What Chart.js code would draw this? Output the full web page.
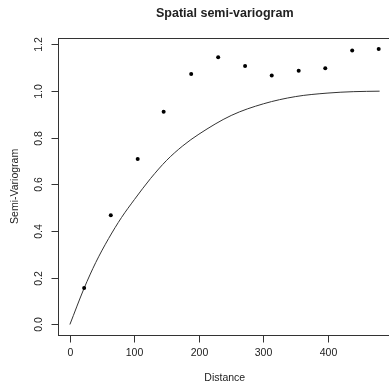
<!DOCTYPE html>
<html>
<head>
<meta charset="utf-8">
<script src="https://cdn.jsdelivr.net/npm/chart.js@4"></script>
<style>
  html, body { margin: 0; padding: 0; background: #fff; overflow: hidden; }
  canvas { display: block; }
</style>
</head>
<body>
<canvas id="vgm" width="396" height="390"></canvas>
<script>
// empirical semi-variogram (binned lags)
const lagDistance = [22.1, 63.4, 105.1, 145.3, 188.0, 229.8, 271.5, 312.8, 354.6, 395.8, 437.5, 478.6];
const semiVariance = [0.156, 0.468, 0.709, 0.911, 1.073, 1.144, 1.107, 1.066, 1.086, 1.097, 1.173, 1.180];

// fitted model line
const modelDistance = [0, 22, 40, 60, 80, 100, 125, 150, 175, 200, 250, 300, 350, 400, 440, 480];
const modelValue = [0, 0.155, 0.265, 0.368, 0.458, 0.535, 0.625, 0.703, 0.765, 0.815, 0.895, 0.945, 0.976, 0.991, 0.997, 0.999];

const xTicks = [0, 100, 200, 300, 400];
const yTicks = [0, 0.2, 0.4, 0.6, 0.8, 1.0, 1.2];
const yTickLabels = ["0.0", "0.2", "0.4", "0.6", "0.8", "1.0", "1.2"];

const titleText = "Spatial semi-variogram";
const xTitle = "Distance";
const yTitle = "Semi-Variogram";

const FONT = "'Liberation Sans', Arial, sans-serif";
const INK = "#222";

// base-graphics style frame, ticks and labels
const rAxes = {
    id: "rAxes",
    afterDraw(chart) {
        const { ctx, chartArea: a, scales } = chart;
        const xs = scales.x, ys = scales.y;
        const tick = 7;
        ctx.save();
        ctx.strokeStyle = "#333";
        ctx.lineWidth = 1;
        ctx.strokeRect(Math.round(a.left) + 0.5, Math.round(a.top) + 0.5,
            Math.round(a.right - a.left), Math.round(a.bottom - a.top));

        ctx.fillStyle = INK;
        ctx.font = `10.5px ${FONT}`;

        // x axis
        const by = Math.round(a.bottom) + 0.5;
        ctx.textAlign = "center";
        ctx.textBaseline = "middle";
        xTicks.forEach((v) => {
            const px = Math.round(xs.getPixelForValue(v)) + 0.5;
            ctx.beginPath();
            ctx.moveTo(px, by);
            ctx.lineTo(px, by + tick);
            ctx.stroke();
            ctx.fillText(String(v), px, a.bottom + 18);
        });

        // y axis, labels turned parallel to the axis
        const lx = Math.round(a.left) + 0.5;
        yTicks.forEach((v, i) => {
            const py = Math.round(ys.getPixelForValue(v)) + 0.5;
            ctx.beginPath();
            ctx.moveTo(lx, py);
            ctx.lineTo(lx - tick, py);
            ctx.stroke();
            ctx.save();
            ctx.translate(a.left - 18, py);
            ctx.rotate(-Math.PI / 2);
            ctx.fillText(yTickLabels[i], 0, 0);
            ctx.restore();
        });

        // titles
        const cx = (a.left + a.right) / 2;
        const cy = (a.top + a.bottom) / 2;
        ctx.fillText(xTitle, cx, a.bottom + 43);
        ctx.save();
        ctx.translate(a.left - 42, cy);
        ctx.rotate(-Math.PI / 2);
        ctx.fillText(yTitle, 0, 0);
        ctx.restore();

        ctx.font = `bold 12.5px ${FONT}`;
        ctx.fillText(titleText, cx, 14);
        ctx.restore();
    },
};

const ctx = document.getElementById("vgm").getContext("2d");
const chart = new Chart(ctx, {
    type: "scatter",
    data: {
        datasets: [
            {
                label: "empirical",
                data: lagDistance.map((d, i) => ({ x: d, y: semiVariance[i] })),
                pointRadius: 2,
                pointBackgroundColor: "#000",
                pointBorderWidth: 0,
                showLine: false,
            },
            {
                label: "model",
                data: modelDistance.map((d, i) => ({ x: d, y: modelValue[i] })),
                showLine: true,
                pointRadius: 0,
                borderColor: "#333",
                borderWidth: 1,
                cubicInterpolationMode: "monotone",
            },
        ],
    },
    options: {
        responsive: false,
        animation: false,
        devicePixelRatio: 1,
        layout: { padding: { left: 57.5, top: 37.7, right: 4, bottom: 55 } },
        plugins: { legend: { display: false }, tooltip: { enabled: false } },
        scales: {
            x: { type: "linear", min: -19.2, max: 499.2, display: false },
            y: { type: "linear", min: -0.045, max: 1.228, display: false },
        },
    },
    plugins: [rAxes],
});
</script>
</body>
</html>
